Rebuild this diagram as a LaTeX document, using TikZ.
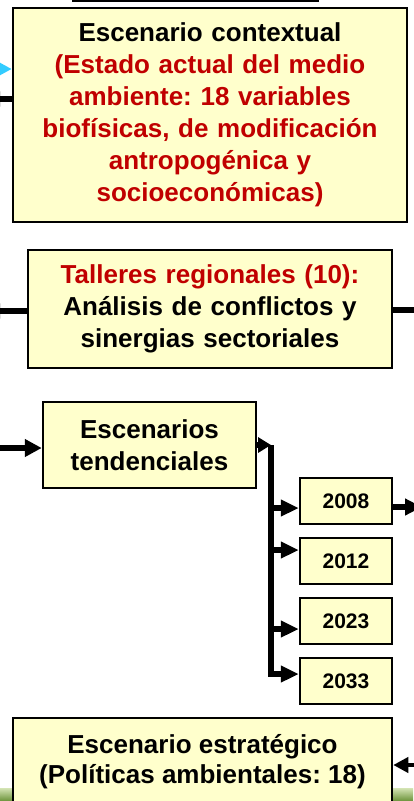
\documentclass[tikz,border=0pt]{standalone}
\usepackage{fontspec}
\setmainfont{Liberation Sans}
\frenchspacing
\usetikzlibrary{arrows.meta,positioning}
\definecolor{boxfill}{HTML}{FFFFCC}
\definecolor{txtred}{HTML}{C00000}
\definecolor{tipcyan}{HTML}{33CCFF}
\definecolor{bandtop}{HTML}{D4E4B4}
\definecolor{bandbot}{HTML}{6B9239}

\begin{document}
\begin{tikzpicture}[x=1pt,y=-1pt,
  box/.style={draw=black,line width=2.5pt,fill=boxfill,inner sep=0pt,align=center,
    font=\bfseries\fontsize{26}{32}\selectfont},
  yearbox/.style={box,minimum width=92pt,minimum height=46pt,
    font=\bfseries\fontsize{21}{24}\selectfont},
  conn/.style={line width=5.5pt},
  arr/.style={conn,-{Triangle[length=17pt,width=17pt]}},
  node distance=11.5pt]
\useasboundingbox (0,0) rectangle (413,801);
% band at the foot and edge of the box above
\shade[top color=bandtop,bottom color=bandbot] (0,788) rectangle (413,801);
\draw[line width=2pt] (73,-40) rectangle (318,1);

\node[box,minimum width=394pt,minimum height=214pt,text width=380pt] (ctx) at (210,115)
  {Escenario contextual\\ \color{txtred}(Estado actual del medio\\ ambiente: 18 variables\\
   biofísicas, de modificación\\ antropogénica y\\ socioeconómicas)};
\node[box,minimum width=364pt,minimum height=118pt,text width=350pt] (tal) at (210,309)
  {{\color{txtred}Talleres regionales (10):}\\ Análisis de conflictos y\\ sinergias sectoriales};
\node[box,minimum width=213pt,minimum height=86pt] (esc) at (149.5,445) {Escenarios\\ tendenciales};
\node[yearbox] (y2008) at (346,501) {2008};
\node[yearbox,below=of y2008] (y2012) {2012};
\node[yearbox,below=of y2012] (y2023) {2023};
\node[yearbox,below=of y2023] (y2033) {2033};
\node[box,minimum width=379pt,minimum height=88pt,font=\bfseries\fontsize{26}{30}\selectfont]
  (est) at (202.5,762) {Escenario estratégico\\ (Políticas ambientales: 18)};

% arrows at the left edge
\coordinate (cyanin) at (-20,69);
\draw[line width=4pt,tipcyan,-{Triangle[length=16pt,width=16pt]}] (cyanin) -- (ctx.west |- cyanin);
\coordinate (ctxout) at (-15,99);
\draw[arr,-{Triangle[length=15pt,width=14pt]}] (ctx.west |- ctxout) -- (ctxout);
\coordinate (talout) at (-15,311);
\draw[arr,-{Triangle[length=15pt,width=14pt]}] (tal.west |- talout) -- (talout);
\coordinate (talr) at (440,310);
\draw[arr] (tal.east |- talr) -- (talr);
\coordinate (escin) at (-5,448);
\draw[arr] (escin) -- (esc.west |- escin);

% trunk to the years
\coordinate (trunk) at (271,445);
\foreach \yr/\dy in {2008/-7,2012/11,2023/-8,2033/7}
  \coordinate (in\yr) at ([yshift=\dy pt]y\yr.west);
\draw[arr,-{Triangle[length=13pt,width=15pt]}] (esc.east |- trunk) -- (trunk);
\draw[arr,-{Triangle[length=18pt,width=16pt]}] (trunk) -- (trunk |- in2033) -- (in2033);
\foreach \yr in {2008,2012,2023}
  \draw[arr,-{Triangle[length=18pt,width=16pt]}] (trunk |- in\yr) -- (in\yr);

% arrows at the right edge
\coordinate (out2008) at (422,507);
\draw[conn,-{Triangle[length=17pt,width=16pt]}] (y2008.east |- out2008) -- (out2008);
\coordinate (estin) at (430,765);
\draw[line width=4pt,-{Triangle[length=15pt,width=15pt]}] (estin) -- (est.east |- estin);
\end{tikzpicture}
\end{document}
